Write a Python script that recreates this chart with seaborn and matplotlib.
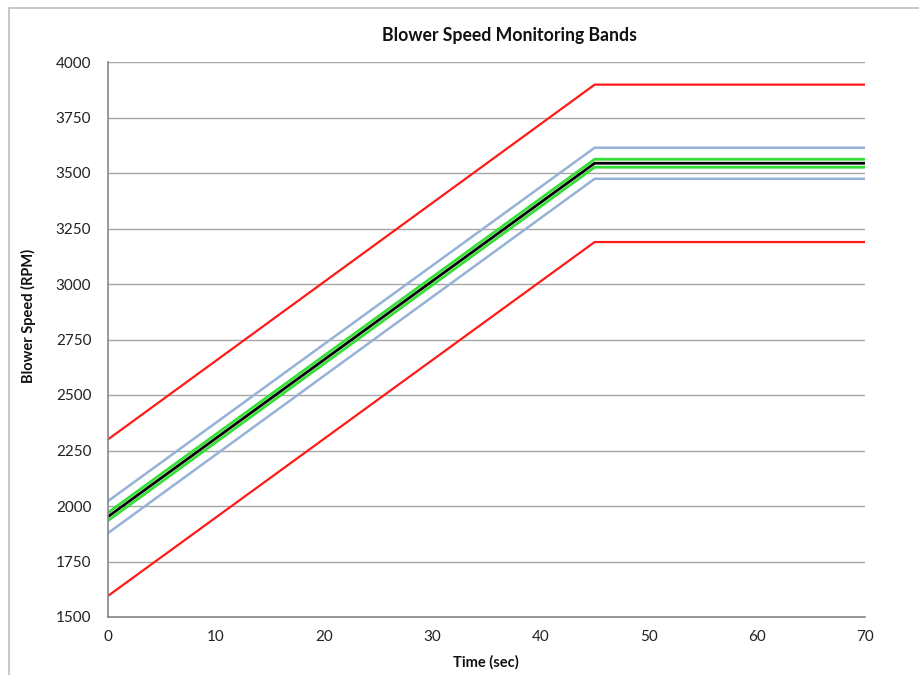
import matplotlib
matplotlib.use("Agg")
import matplotlib.pyplot as plt
import seaborn as sns
import pandas as pd
from matplotlib.patches import Rectangle

# Time breakpoints (sec): ramp until 45 s, then hold
time_sec = [0, 45, 70]

# Blower speed bands (RPM) at each breakpoint
target = [1952, 3544, 3544]
green_upper = [1970, 3562, 3562]
green_lower = [1934, 3526, 3526]
blue_upper = [2022, 3614, 3614]
blue_lower = [1878, 3474, 3474]
red_upper = [2300, 3898, 3898]
red_lower = [1595, 3189, 3189]

y_ticks = [1500, 1750, 2000, 2250, 2500, 2750, 3000, 3250, 3500, 3750, 4000]
x_ticks = [0, 10, 20, 30, 40, 50, 60, 70]

sns.set_theme(style="white")
plt.rcParams["font.family"] = ["Lato", "DejaVu Sans"]

fig = plt.figure(figsize=(9.2, 6.75), dpi=100)
ax = fig.add_axes([108 / 920, 1 - 617 / 675, (865 - 108) / 920, (617 - 62) / 675])

series = [
    (red_upper, "#ff1a1a", 1.6),
    (red_lower, "#ff1a1a", 1.6),
    (blue_upper, "#95b3d7", 1.8),
    (blue_lower, "#95b3d7", 1.8),
    (green_upper, "#33e033", 2.0),
    (green_lower, "#33e033", 2.0),
    (target, "#000000", 2.0),
]
for vals, color, lw in series:
    df = pd.DataFrame({"Time": time_sec, "RPM": vals})
    sns.lineplot(data=df, x="Time", y="RPM", ax=ax, color=color, linewidth=lw,
                 estimator=None, sort=False)

ax.set_xlim(0, 70)
ax.set_ylim(1500, 4000)
ax.set_yticks(y_ticks)
ax.set_xticks(x_ticks)
ax.set_xticks(range(5, 70, 10), minor=True)
ax.yaxis.grid(True, color="#a6a6a6", linewidth=1.0)
ax.xaxis.grid(False)
ax.set_axisbelow(True)

for side in ("top", "right"):
    ax.spines[side].set_visible(False)
for side in ("left", "bottom"):
    ax.spines[side].set_color("#868686")
    ax.spines[side].set_linewidth(1.2)

ax.tick_params(axis="x", which="both", direction="inout", length=7, width=1,
               color="#868686", labelsize=11, labelcolor="#222222", pad=6)
ax.tick_params(axis="y", which="both", direction="out", length=0,
               labelsize=11, labelcolor="#222222", pad=12)

ax.set_xlabel("")
ax.set_ylabel("")

fig.text(510 / 920, 1 - 35 / 675, "Blower Speed Monitoring Bands",
         ha="center", va="center", fontsize=12.7, fontweight="bold", color="#111111")
fig.text(486 / 920, 1 - 662 / 675, "Time (sec)", ha="center", va="center",
         fontsize=10.5, fontweight="bold", color="#111111")
fig.text(28 / 920, 1 - 316 / 675, "Blower Speed (RPM)", ha="center", va="center",
         rotation=90, fontsize=10.5, fontweight="bold", color="#111111")

# Chart-area frame
fig.patches.append(Rectangle((9 / 920, -0.1), 1.2, 1.1 - 8 / 675,
                             transform=fig.transFigure, fill=False,
                             edgecolor="#bdbdbd", linewidth=1.2))

fig.savefig("out.png", dpi=100)
